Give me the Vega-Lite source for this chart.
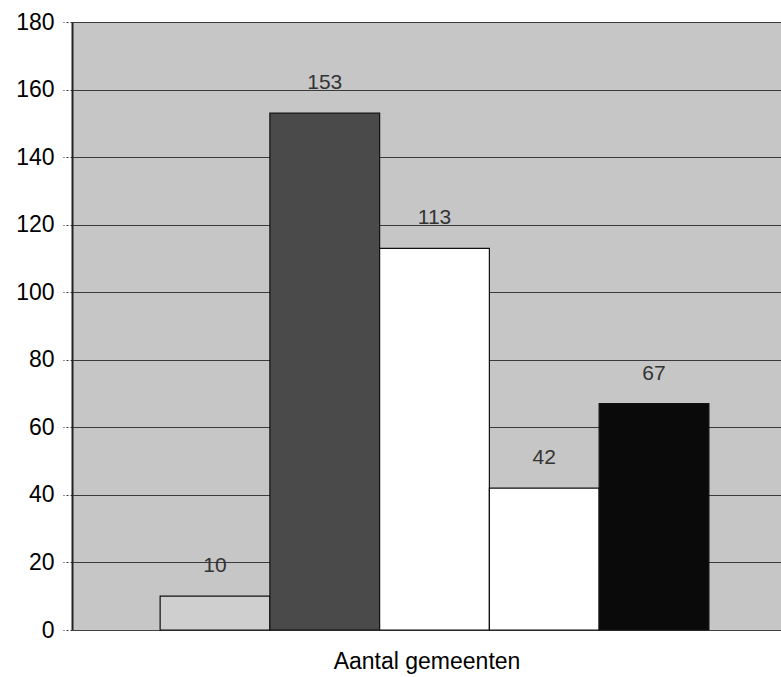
{
  "$schema": "https://vega.github.io/schema/vega-lite/v6.json",
  "autosize": "none",
  "padding": {"left": 72, "top": 22, "right": 0, "bottom": 47},
  "width": 709,
  "height": 608,
  "background": "white",
  "config": {
    "view": {"fill": "#c6c6c6", "stroke": null},
    "font": "Liberation Sans"
  },
  "data": {
    "values": [
      {"reeks": "Reeks 1", "aantal": 10},
      {"reeks": "Reeks 2", "aantal": 153},
      {"reeks": "Reeks 3", "aantal": 113},
      {"reeks": "Reeks 4", "aantal": 42},
      {"reeks": "Reeks 5", "aantal": 67}
    ]
  },
  "encoding": {
    "x": {
      "field": "reeks",
      "type": "nominal",
      "sort": null,
      "scale": {"paddingInner": 0, "paddingOuter": 0.73, "align": 0.55},
      "axis": {
        "title": "Aantal gemeenten",
        "labels": false,
        "ticks": false,
        "domain": false,
        "titleFontSize": 23,
        "titleFontWeight": "normal",
        "titleColor": "black",
        "titlePadding": 20
      }
    },
    "y": {
      "field": "aantal",
      "type": "quantitative",
      "scale": {"domain": [0, 180], "nice": false},
      "axis": {
        "title": null,
        "values": [0, 20, 40, 60, 80, 100, 120, 140, 160, 180],
        "labelFontSize": 23,
        "labelColor": "black",
        "labelPadding": 9,
        "tickSize": 9,
        "tickColor": "#333",
        "tickDash": [2, 2],
        "domain": true,
        "domainColor": "#222",
        "domainWidth": 2,
        "grid": true,
        "gridColor": "#222",
        "gridWidth": 1,
        "gridOpacity": 0.85
      }
    }
  },
  "layer": [
    {
      "mark": {"type": "bar", "stroke": "#111", "strokeWidth": 1.2},
      "encoding": {
        "fill": {
          "field": "reeks",
          "type": "nominal",
          "scale": {"range": ["#cfcfcf", "#4a4a4a", "#ffffff", "#ffffff", "#0a0a0a"]},
          "legend": null
        }
      }
    },
    {
      "mark": {"type": "text", "baseline": "middle", "dy": -30, "fontSize": 21, "color": "#333"},
      "encoding": {
        "text": {"field": "aantal", "type": "quantitative"}
      }
    }
  ]
}
